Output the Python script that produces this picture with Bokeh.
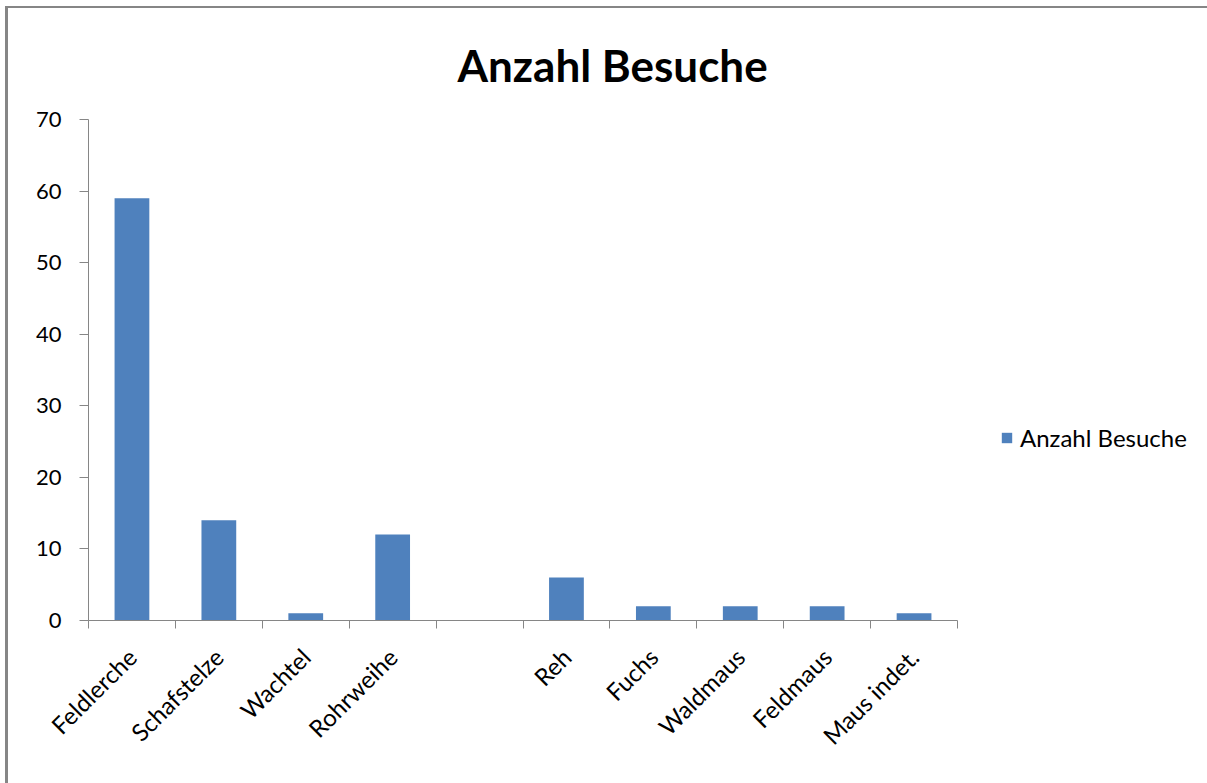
import math
from bokeh.plotting import figure
from bokeh.models import (ColumnDataSource, FixedTicker, Legend, LegendItem,
                          Range1d, LinearAxis)
from bokeh.embed import file_html
from bokeh.resources import INLINE

# ---- data ----
categories = ["Feldlerche", "Schafstelze", "Wachtel", "Rohrweihe", "",
              "Reh", "Fuchs", "Waldmaus", "Feldmaus", "Maus indet."]
visits = [59, 14, 1, 12, 0, 6, 2, 2, 2, 1]
y_ticks = [0, 10, 20, 30, 40, 50, 60, 70]
series_name = "Anzahl Besuche"
title_text = "Anzahl Besuche"

n = len(categories)
centers = [i + 0.5 for i in range(n)]
bounds = list(range(n + 1))

src = ColumnDataSource(dict(x=centers, top=visits, cat=categories))

FONT = "Lato"
GREY = "#868686"
BAR = "#4F81BD"

p = figure(frame_width=869, frame_height=501,
           output_backend="svg", toolbar_location=None,
           x_range=Range1d(0, n), y_range=Range1d(0, 70),
           min_border_left=80, min_border_right=250,
           min_border_top=111, min_border_bottom=163,
           x_axis_type=None, y_axis_type=None,
           stylesheets=[":host { border-left: 3px solid #868686; "
                        "border-top: 2px solid #868686; "
                        "margin-left: 5px; margin-top: 6px; }"])
p.outline_line_color = None
p.background_fill_color = "white"
p.border_fill_color = "white"

# title
p.title.text = title_text
p.title.align = "left"
p.title.offset = 369
p.title.text_font = FONT
p.title.text_font_style = "bold"
p.title.text_font_size = "44px"
p.title.text_color = "#000000"
p.title.standoff = 54
p.title.vertical_align = "top"

# y axis
yax = LinearAxis(ticker=FixedTicker(ticks=y_ticks, minor_ticks=[]))
yax.axis_line_color = GREY
yax.major_tick_line_color = GREY
yax.major_tick_out = 9
yax.major_tick_in = 0
yax.minor_tick_line_color = None
yax.major_label_text_font = FONT
yax.major_label_text_font_size = "22px"
yax.major_label_text_color = "#000000"
yax.major_label_standoff = 18
p.add_layout(yax, "left")

# x axis: labels at centers, ticks at boundaries (minor ticks)
xax = LinearAxis(ticker=FixedTicker(ticks=centers, minor_ticks=bounds))
xax.major_label_overrides = {c: lab for c, lab in zip(centers, categories)}
xax.axis_line_color = GREY
xax.major_tick_line_color = None
xax.major_tick_out = 0
xax.major_tick_in = 0
xax.minor_tick_line_color = GREY
xax.minor_tick_out = 8
xax.minor_tick_in = 0
xax.major_label_orientation = math.pi / 4
xax.major_label_text_font = FONT
xax.major_label_text_font_size = "24px"
xax.major_label_text_color = "#000000"
xax.major_label_standoff = 24
p.add_layout(xax, "below")

# grid
p.ygrid.ticker = FixedTicker(ticks=y_ticks)
p.ygrid.grid_line_color = GREY
p.xgrid.grid_line_color = None

r = p.vbar(x="x", top="top", width=0.4, bottom=0, source=src,
           fill_color=BAR, line_color=None)

legend = Legend(items=[LegendItem(label=series_name, renderers=[r])],
                location=(43, 168))
legend.border_line_color = None
legend.background_fill_alpha = 0
legend.padding = 0
legend.margin = 0
legend.glyph_width = 13
legend.glyph_height = 13
legend.label_standoff = 7
legend.label_text_font = FONT
legend.label_text_font_size = "24px"
legend.label_text_color = "#000000"
p.add_layout(legend, "right")

open("out.html", "w").write(file_html(p, INLINE))
